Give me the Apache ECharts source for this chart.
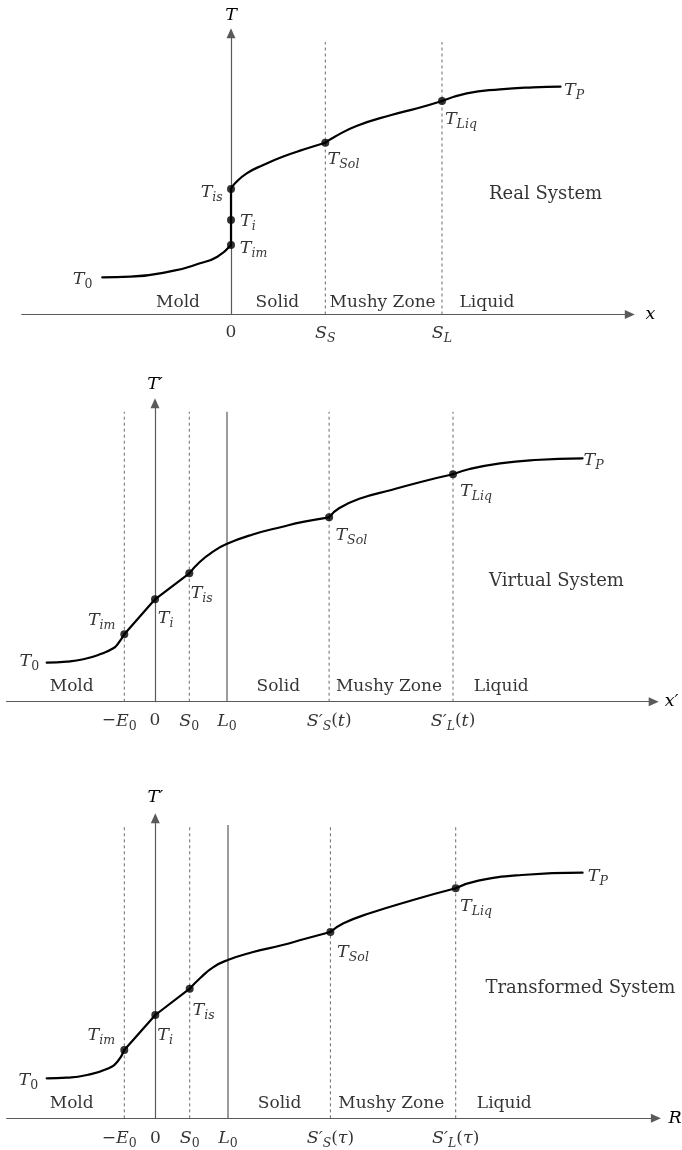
<!DOCTYPE html>
<html><head><meta charset="utf-8">
<script src="https://cdn.jsdelivr.net/npm/echarts@6/dist/echarts.min.js"></script>
<style>html,body{margin:0;padding:0;background:#fff}#c{width:682px;height:1150px}</style>
</head><body><div id="c"></div>
<script>
// ================= DATA =================
// ---- Panel 1 : Real System ----
const p1MoldCurve      = [[-12.88,3.72],[-10.06,3.78],[-5.71,4.38],[-3.10,5.12],[-1.36,5.78],[0,6.95]];
const p1InterfaceCurve = [[0,6.95],[0,9.45],[0,12.55]];
const p1SolidCurve     = [[0,12.55],[0.40,13.12],[1.57,14.12],[3.23,14.95],[5.16,15.78],[7.33,16.52],[9.43,17.18]];
const p1MushyCurve     = [[9.43,17.18],[10.38,17.78],[12.55,18.85],[16.03,19.95],[18.64,20.62],[21.10,21.35]];
const p1LiquidCurve    = [[21.10,21.35],[23.57,22.12],[26.90,22.52],[30.20,22.72],[32.95,22.78]];
const p1Dots           = [[0,6.95],[0,9.45],[0,12.55],[9.43,17.18],[21.10,21.35]];
const p1DashedBounds   = [9.43, 21.10];
const p1SolidBounds    = [];
const p1TickValues     = [0, 9.43, 21.10];
const p1TickLabels     = ['0', 'S_S', 'S_L'];
const p1PointLabels    = ['T_0','T_{im}','T_i','T_{is}','T_{Sol}','T_{Liq}','T_P'];
const p1PointLabelAt   = [[-14.84,3.52],[2.25,6.62],[1.68,9.28],[-1.93,12.18],[11.25,15.52],[22.99,19.52],[34.30,22.45]];
const p1Regions        = ['Mold','Solid','Mushy Zone','Liquid'];
const p1RegionAt       = [[-5.30,1.22],[4.64,1.22],[15.16,1.22],[25.60,1.22]];
const p1Title          = 'Real System';
const p1TitleAt        = [31.46, 12.02];
const p1AxisNames      = ['x', 'T'];

// ---- Panel 2 : Virtual System ----
const p2MoldCurve      = [[-10.83,3.90],[-8.83,4.00],[-7.17,4.24],[-5.50,4.74],[-4.17,5.34],[-3.67,5.84],[-3.07,6.74]];
const p2InterfaceCurve = [[-3.07,6.74],[0,10.24],[3.43,12.84]];
const p2SolidCurve     = [[3.43,12.84],[4.50,14.00],[5.80,15.00],[7.15,15.77],[9.70,16.70],[12.76,17.50],[14.93,18.00],[17.41,18.44]];
const p2MushyCurve     = [[17.41,18.44],[18.40,19.34],[20.59,20.34],[23.63,21.17],[26.67,22.00],[29.80,22.74]];
const p2LiquidCurve    = [[29.80,22.74],[31.46,23.27],[34.50,23.84],[37.98,24.17],[42.76,24.34]];
const p2Dots           = [[-3.07,6.74],[0,10.24],[3.43,12.84],[17.41,18.44],[29.80,22.74]];
const p2DashedBounds   = [-3.07, 3.43, 17.41, 29.80];
const p2SolidBounds    = [7.20];
const p2TickValues     = [-3.07, 0, 3.43, 7.20, 17.41, 29.80];
const p2TickLabels     = ['−E_0','0','S_0','L_0','S′_S(t)','S′_L(t)'];
const p2PointLabels    = ['T_0','T_{im}','T_i','T_{is}','T_{Sol}','T_{Liq}','T_P'];
const p2PointLabelAt   = [[-12.57,4.00],[-5.33,8.10],[1.07,8.34],[4.67,10.84],[19.63,16.67],[32.10,21.00],[43.85,24.17]];
const p2Regions        = ['Mold','Solid','Mushy Zone','Liquid'];
const p2RegionAt       = [[-8.33,1.50],[12.33,1.50],[23.40,1.50],[34.63,1.50]];
const p2Title          = 'Virtual System';
const p2TitleAt        = [40.15, 12.00];
const p2AxisNames      = ['x′', 'T′'];

// ---- Panel 3 : Transformed System ----
const p3MoldCurve      = [[-10.86,4.00],[-8.86,4.06],[-6.83,4.33],[-4.66,5.00],[-3.79,5.66],[-3.10,6.83]];
const p3InterfaceCurve = [[-3.10,6.83],[0,10.33],[3.44,12.96]];
const p3SolidCurve     = [[3.44,12.96],[4.47,14.00],[5.77,15.10],[7.25,15.83],[9.69,16.60],[12.73,17.33],[14.90,17.93],[17.51,18.63]];
const p3MushyCurve     = [[17.51,18.63],[18.82,19.50],[21.43,20.50],[25.77,21.83],[30.04,23.00]];
const p3LiquidCurve    = [[30.04,23.00],[32.30,23.76],[36.64,24.33],[42.73,24.56]];
const p3Dots           = [[-3.10,6.83],[0,10.33],[3.44,12.96],[17.51,18.63],[30.04,23.00]];
const p3DashedBounds   = [-3.10, 3.44, 17.51, 30.04];
const p3SolidBounds    = [7.27];
const p3TickValues     = [-3.10, 0, 3.44, 7.27, 17.51, 30.04];
const p3TickLabels     = ['−E_0','0','S_0','L_0','S′_S(τ)','S′_L(τ)'];
const p3PointLabels    = ['T_0','T_{im}','T_i','T_{is}','T_{Sol}','T_{Liq}','T_P'];
const p3PointLabelAt   = [[-12.70,3.83],[-5.40,8.33],[0.99,8.33],[4.82,10.83],[19.77,16.56],[32.07,21.16],[44.25,24.16]];
const p3Regions        = ['Mold','Solid','Mushy Zone','Liquid'];
const p3RegionAt       = [[-8.36,1.50],[12.43,1.50],[23.60,1.50],[34.90,1.50]];
const p3Title          = 'Transformed System';
const p3TitleAt        = [42.51, 13.00];
const p3AxisNames      = ['R', 'T′'];

// ================= LAYOUT / STYLE =================
const layouts = [
  {left:21.7, top:33.3,  width:608.1, height:281.2, xMin:-20.93, xMax:39.88, yMax:28.12, lineTop:27.25, tickY:-1.85, xGap:15.7, yGap:5.5},
  {left:6.5,  top:403.3, width:647.2, height:298.4, xMin:-14.85, xMax:49.87, yMax:29.84, lineTop:29.00, tickY:-1.93, xGap:11,   yGap:7},
  {left:6.7,  top:818.3, width:649.2, height:300.0, xMin:-14.86, xMax:50.06, yMax:30.00, lineTop:29.33, tickY:-2.00, xGap:12.6, yGap:8.5}
];
const panels = [
  {curves:[p1MoldCurve,p1InterfaceCurve,p1SolidCurve,p1MushyCurve,p1LiquidCurve], dots:p1Dots, dashed:p1DashedBounds, solid:p1SolidBounds,
   tickValues:p1TickValues, tickLabels:p1TickLabels, pointLabels:p1PointLabels, pointLabelAt:p1PointLabelAt,
   regions:p1Regions, regionAt:p1RegionAt, title:p1Title, titleAt:p1TitleAt, axisNames:p1AxisNames},
  {curves:[p2MoldCurve,p2InterfaceCurve,p2SolidCurve,p2MushyCurve,p2LiquidCurve], dots:p2Dots, dashed:p2DashedBounds, solid:p2SolidBounds,
   tickValues:p2TickValues, tickLabels:p2TickLabels, pointLabels:p2PointLabels, pointLabelAt:p2PointLabelAt,
   regions:p2Regions, regionAt:p2RegionAt, title:p2Title, titleAt:p2TitleAt, axisNames:p2AxisNames},
  {curves:[p3MoldCurve,p3InterfaceCurve,p3SolidCurve,p3MushyCurve,p3LiquidCurve], dots:p3Dots, dashed:p3DashedBounds, solid:p3SolidBounds,
   tickValues:p3TickValues, tickLabels:p3TickLabels, pointLabels:p3PointLabels, pointLabelAt:p3PointLabelAt,
   regions:p3Regions, regionAt:p3RegionAt, title:p3Title, titleAt:p3TitleAt, axisNames:p3AxisNames}
];

const SERIF = "'DejaVu Serif', 'Liberation Serif', serif";
const INK = '#000';
const RICH = {
  i:  {fontFamily:SERIF, fontStyle:'italic', fontSize:17.5, lineHeight:24, color:INK},
  r:  {fontFamily:SERIF, fontSize:17, lineHeight:24, color:INK},
  si: {fontFamily:SERIF, fontStyle:'italic', fontSize:12.5, lineHeight:15, verticalAlign:'bottom', color:INK},
  sr: {fontFamily:SERIF, fontSize:12.5, lineHeight:15, verticalAlign:'bottom', color:INK},
  txt:{fontFamily:SERIF, fontSize:17, lineHeight:24, color:INK},
  ttl:{fontFamily:SERIF, fontSize:18, lineHeight:24, color:INK}
};

// tiny math markup -> ECharts rich text
function tex(s) {
  const out = [];
  const push = (st, ch) => { const l = out[out.length-1]; if (l && l.s === st) l.t += ch; else out.push({s:st, t:ch}); };
  let i = 0;
  while (i < s.length) {
    const c = s[i];
    if (c === '_') {
      let sub;
      if (s[i+1] === '{') { const j = s.indexOf('}', i+2); sub = s.slice(i+2, j); i = j + 1; }
      else { sub = s[i+1]; i += 2; }
      for (const ch of sub) push(/[0-9]/.test(ch) ? 'sr' : 'si', ch);
    } else {
      push(/[0-9()−]/.test(c) ? 'r' : 'i', c); i++;
    }
  }
  return out.map(o => '{' + o.s + '|' + o.t + '}').join('');
}
const plain = (s, st) => '{' + (st || 'txt') + '|' + s + '}';

const option = {animation:false, backgroundColor:'#fff', grid:[], xAxis:[], yAxis:[], series:[]};
const AXIS_COLOR = '#5a5a5a';

function textSeries(idx, items, z) {
  return {
    type:'scatter', xAxisIndex:idx, yAxisIndex:idx, silent:true, clip:false, z:z||6,
    symbol:'circle', symbolSize:1, itemStyle:{color:'rgba(0,0,0,0)'},
    label:{show:true, position:'inside', formatter:p => p.data.text, rich:RICH,
           color:INK, textBorderWidth:0, textBorderColor:'transparent', textShadowBlur:0},
    emphasis:{disabled:true},
    data: items
  };
}

panels.forEach((P, idx) => {
  const L = layouts[idx];
  option.grid.push({left:L.left, top:L.top, width:L.width, height:L.height, containLabel:false, outerBoundsMode:'none'});
  const axisLine = {show:true, onZero:true, symbol:['none','triangle'], symbolSize:[9,10], lineStyle:{color:AXIS_COLOR, width:1.2}};
  option.xAxis.push({gridIndex:idx, type:'value', min:L.xMin, max:L.xMax, axisLine:axisLine,
    axisTick:{show:false}, axisLabel:{show:false}, splitLine:{show:false},
    name:tex(P.axisNames[0]), nameLocation:'end', nameGap:L.xGap, nameTextStyle:{rich:RICH}});
  option.yAxis.push({gridIndex:idx, type:'value', min:0, max:L.yMax, axisLine:axisLine,
    axisTick:{show:false}, axisLabel:{show:false}, splitLine:{show:false},
    name:tex(P.axisNames[1]), nameLocation:'end', nameGap:L.yGap, nameTextStyle:{rich:RICH}});

  // zone boundaries
  P.dashed.forEach(b => option.series.push({type:'line', xAxisIndex:idx, yAxisIndex:idx, silent:true, showSymbol:false, z:1,
    data:[[b,0],[b,L.lineTop]], lineStyle:{color:'#6a6a6a', width:1, type:[3,3]}}));
  P.solid.forEach(b => option.series.push({type:'line', xAxisIndex:idx, yAxisIndex:idx, silent:true, showSymbol:false, z:1,
    data:[[b,0],[b,L.lineTop]], lineStyle:{color:AXIS_COLOR, width:1.2}}));

  // temperature curve, one series per zone
  P.curves.forEach((seg, k) => option.series.push({type:'line', xAxisIndex:idx, yAxisIndex:idx, silent:true, showSymbol:false, z:3,
    data:seg, smooth: k === 1 ? false : 0.5,
    lineStyle:{color:'#000', width:2.2, cap:'round', join:'round'}}));

  // dots
  option.series.push({type:'scatter', xAxisIndex:idx, yAxisIndex:idx, silent:true, clip:false, z:5,
    symbol:'circle', symbolSize:8, itemStyle:{color:'#000'}, data:P.dots});

  // labels
  option.series.push(textSeries(idx, P.pointLabels.map((t,k) => ({value:P.pointLabelAt[k], text:tex(t)}))));
  option.series.push(textSeries(idx, P.regions.map((t,k) => ({value:P.regionAt[k], text:plain(t)}))));
  option.series.push(textSeries(idx, [{value:P.titleAt, text:plain(P.title, 'ttl')}]));
  option.series.push(textSeries(idx, P.tickLabels.map((t,k) => ({value:[P.tickValues[k], L.tickY], text:tex(t),
    label: t.startsWith('−') ? {offset:[-5,0]} : undefined}))));
});

const chart = echarts.init(document.getElementById('c'), null, {renderer:'canvas'});
chart.setOption(option);
</script></body></html>
